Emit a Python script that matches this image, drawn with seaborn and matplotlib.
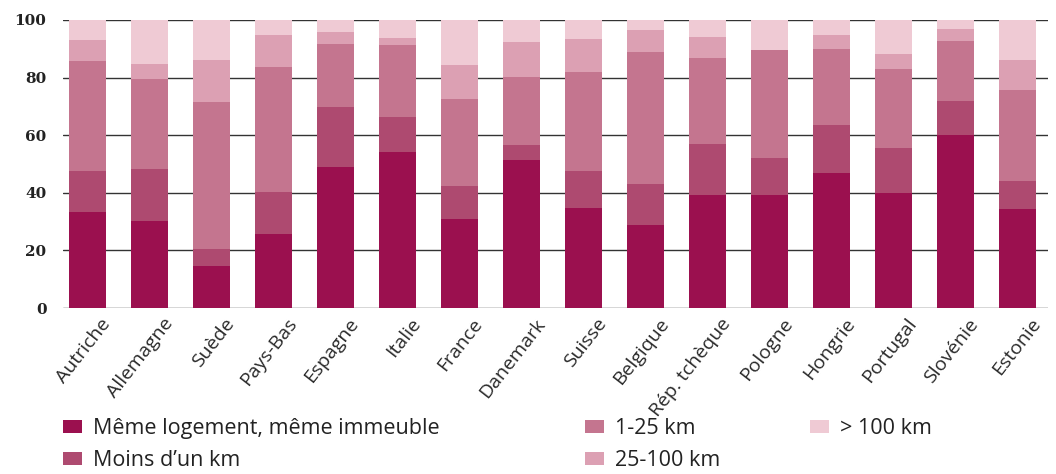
import numpy as np
import pandas as pd
import matplotlib
matplotlib.use("Agg")
import matplotlib.pyplot as plt
import matplotlib.transforms as mtransforms
from matplotlib.patches import Patch
import seaborn as sns

# ---- data (shares, %) ----
countries = ["Autriche", "Allemagne", "Suède", "Pays-Bas", "Espagne", "Italie",
             "France", "Danemark", "Suisse", "Belgique", "Rép. tchèque", "Pologne",
             "Hongrie", "Portugal", "Slovénie", "Estonie"]
meme_logement = [33.2, 30.3, 14.5, 25.8, 48.8, 54.2, 31.0, 51.3, 34.8, 29.0, 39.1, 39.1, 46.8, 40.0, 60.1, 34.5]
moins_un_km = [14.4, 18.0, 6.1, 14.5, 21.0, 12.0, 11.2, 5.2, 12.9, 14.2, 17.8, 12.9, 16.8, 15.7, 11.7, 9.7]
km_1_25 = [38.2, 31.2, 50.8, 43.4, 21.8, 25.0, 30.2, 23.6, 34.1, 45.5, 30.0, 37.6, 26.3, 27.1, 20.8, 31.4]
km_25_100 = [7.3, 5.2, 14.6, 11.1, 4.1, 2.6, 12.0, 12.3, 11.6, 7.7, 7.2, 0.0, 4.9, 5.5, 4.4, 10.4]
km_100_plus = [6.9, 15.3, 14.0, 5.2, 4.3, 6.2, 15.6, 7.6, 6.6, 3.6, 5.9, 10.4, 5.2, 11.7, 3.0, 14.0]

series_labels = ["Même logement, même immeuble", "Moins d\u2019un km", "1-25 km", "25-100 km", "> 100 km"]
colors = ["#9b104f", "#ae4a70", "#c4758f", "#dca0b3", "#efcad4"]

data = pd.DataFrame({
    "pays": countries,
    "s0": meme_logement,
    "s1": moins_un_km,
    "s2": km_1_25,
    "s3": km_25_100,
    "s4": km_100_plus,
})
parts = ["s0", "s1", "s2", "s3", "s4"]
cum = data[parts].cumsum(axis=1)

sns.set_theme(style="white")
text_font = ["Open Sans", "DejaVu Sans"]

fig = plt.figure(figsize=(10.56, 4.74), dpi=100)
ax = fig.add_axes([0.0597, 0.350, 0.933, 0.608])

# gridlines behind bars
for yv in range(0, 101, 20):
    ax.axhline(yv, color="#333333", lw=1.0, zorder=0)

# stacked bars: draw tallest cumulative first
for i in range(len(parts) - 1, -1, -1):
    sns.barplot(x=data["pays"], y=cum[parts[i]], color=colors[i], width=0.6,
                saturation=1, ax=ax, zorder=2, linewidth=0)

ax.set_ylim(0, 100)
ax.set_xlim(-0.39, 15.5)
ax.set_yticks(range(0, 101, 20))
ax.set_yticklabels([str(v) for v in range(0, 101, 20)],
                   fontfamily="DejaVu Serif", fontweight="bold", fontsize=11, color="#222222")
ax.tick_params(axis="y", length=0, pad=12)
ax.tick_params(axis="x", length=0, pad=5)
ax.set_xticks(range(len(countries)))
ax.set_xticklabels(countries, rotation=52, ha="right", va="top", rotation_mode="anchor",
                   fontfamily=text_font, fontsize=14, color="#2a2a2a")
shift = mtransforms.ScaledTranslation(0.13, 0, fig.dpi_scale_trans)
for lab in ax.get_xticklabels():
    lab.set_transform(lab.get_transform() + shift)
ax.set_xlabel("")
ax.set_ylabel("")
for sp in ax.spines.values():
    sp.set_visible(False)

# legend in three columns placed like the original
handles = [Patch(facecolor=c, edgecolor="none") for c in colors]
leg_kw = dict(loc="upper left", frameon=False, handlelength=0.9, handleheight=0.55,
              handletextpad=0.5, labelspacing=0.5, borderpad=0, borderaxespad=0,
              prop={"family": text_font, "size": 15.5})
col_groups = [[0, 1], [2, 3], [4]]
col_x = [63, 585, 810]
for grp, xpx in zip(col_groups, col_x):
    leg = fig.legend([handles[k] for k in grp], [series_labels[k] for k in grp],
                     bbox_to_anchor=(xpx / 1056, 1 - 418 / 474), **leg_kw)
    for t in leg.get_texts():
        t.set_color("#222222")

fig.savefig("out.png", dpi=100, facecolor="white")
